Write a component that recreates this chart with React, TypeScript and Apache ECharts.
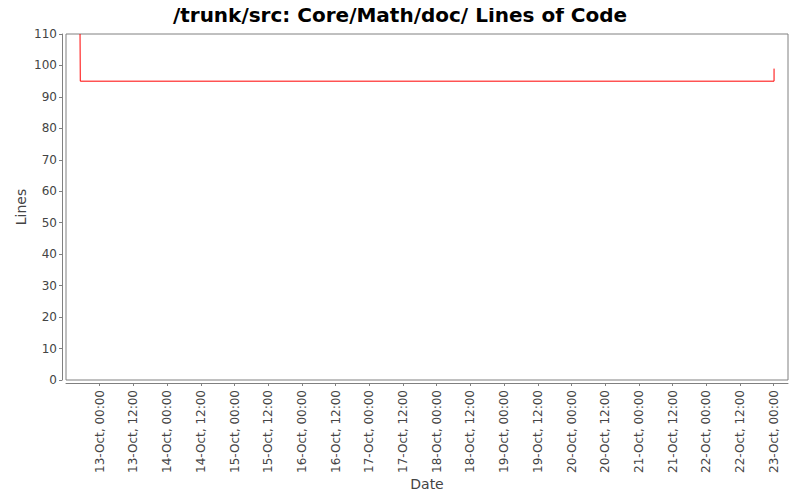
import { useEffect, useRef } from "react"
import * as echarts from "echarts"

// line count history (step series)
const commitTimes = ["2009-10-12T17:00:00Z", "2009-10-12T17:05:00Z", "2009-10-23T00:07:00Z"]
const lineCounts = [110, 95, 99]

const xTickTimes = [
  "2009-10-13T00:00:00Z", "2009-10-13T12:00:00Z",
  "2009-10-14T00:00:00Z", "2009-10-14T12:00:00Z",
  "2009-10-15T00:00:00Z", "2009-10-15T12:00:00Z",
  "2009-10-16T00:00:00Z", "2009-10-16T12:00:00Z",
  "2009-10-17T00:00:00Z", "2009-10-17T12:00:00Z",
  "2009-10-18T00:00:00Z", "2009-10-18T12:00:00Z",
  "2009-10-19T00:00:00Z", "2009-10-19T12:00:00Z",
  "2009-10-20T00:00:00Z", "2009-10-20T12:00:00Z",
  "2009-10-21T00:00:00Z", "2009-10-21T12:00:00Z",
  "2009-10-22T00:00:00Z", "2009-10-22T12:00:00Z",
  "2009-10-23T00:00:00Z",
]
const yTicks = [0, 10, 20, 30, 40, 50, 60, 70, 80, 90, 100, 110]

const xMin = "2009-10-12T12:00:00Z"
const xMax = "2009-10-23T05:05:00Z"

const MONTHS = ["Jan", "Feb", "Mar", "Apr", "May", "Jun", "Jul", "Aug", "Sep", "Oct", "Nov", "Dec"]
const pad = (n: number) => String(n).padStart(2, "0")
const fmtTick = (v: number) => {
  const d = new Date(v)
  return `${d.getUTCDate()}-${MONTHS[d.getUTCMonth()]}, ${pad(d.getUTCHours())}:${pad(d.getUTCMinutes())}`
}

const FONT = "DejaVu Sans"

export default function App() {
  const hostRef = useRef<HTMLDivElement>(null)

  useEffect(() => {
    const el = hostRef.current
    if (!el) return
    const chart = echarts.init(el, undefined, { renderer: "svg" })
    const xTickValues = xTickTimes.map((t) => Date.parse(t))

    chart.setOption({
      animation: false,
      backgroundColor: "#fff",
      textStyle: { fontFamily: FONT },
      title: {
        text: "/trunk/src: Core/Math/doc/ Lines of Code",
        left: "center",
        top: 0,
        textStyle: { fontFamily: FONT, fontSize: 20, fontWeight: "bold", color: "#000" },
      },
      grid: {
        left: 66,
        right: 12,
        top: 34,
        bottom: 120,
        show: true,
        borderColor: "#808080",
        borderWidth: 1,
        backgroundColor: "#fff",
      },
      xAxis: {
        type: "value",
        min: Date.parse(xMin),
        max: Date.parse(xMax),
        offset: 3,
        name: "Date",
        nameLocation: "middle",
        nameGap: 94,
        nameMoveOverlap: false,
        nameTextStyle: { fontFamily: FONT, fontSize: 14, color: "#444" },
        axisLine: { show: true, onZero: false, lineStyle: { color: "#808080" } },
        axisTick: {
          show: true,
          length: 3,
          lineStyle: { color: "#808080" },
          customValues: xTickValues,
        },
        axisLabel: {
          rotate: 90,
          margin: 7,
          fontSize: 12,
          color: "#444",
          fontFamily: FONT,
          customValues: xTickValues,
          formatter: (v: number) => fmtTick(v),
        },
        splitLine: { show: false },
      },
      yAxis: {
        type: "value",
        min: 0,
        max: 110,
        offset: 4,
        name: "Lines",
        nameLocation: "middle",
        nameGap: 34,
        nameMoveOverlap: false,
        nameRotate: 90,
        nameTextStyle: { fontFamily: FONT, fontSize: 14, color: "#444" },
        axisLine: { show: true, onZero: false, lineStyle: { color: "#808080" } },
        axisTick: { show: true, length: 3, lineStyle: { color: "#808080" }, customValues: yTicks },
        axisLabel: { fontSize: 12, color: "#444", fontFamily: FONT, margin: 5, customValues: yTicks },
        splitLine: { show: false },
      },
      series: [
        {
          type: "line",
          step: "end",
          showSymbol: false,
          data: commitTimes.map((t, i) => [Date.parse(t), lineCounts[i]]),
          lineStyle: { color: "#ff0000", width: 1 },
        },
      ],
    })

    return () => chart.dispose()
  }, [])

  return <div ref={hostRef} style={{ width: 800, height: 500, margin: -8 }} />
}
